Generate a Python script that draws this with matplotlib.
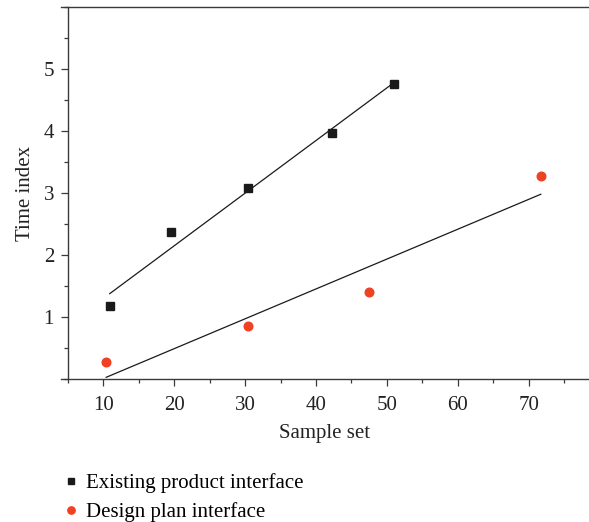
import numpy as np
import matplotlib
matplotlib.use("Agg")
import matplotlib.pyplot as plt
from matplotlib.ticker import MultipleLocator, FixedLocator

plt.rcParams['font.family'] = ['Liberation Serif', 'DejaVu Serif']

existing_x = [10.9, 19.6, 30.4, 42.2, 51.0]
existing_y = [1.17, 2.37, 3.08, 3.97, 4.76]
design_x = [10.4, 30.4, 47.5, 71.7]
design_y = [0.275, 0.86, 1.41, 3.27]
x_ticks = [10, 20, 30, 40, 50, 60, 70]
y_ticks = [1, 2, 3, 4, 5]

FS = 15

fig = plt.figure(figsize=(5.89, 5.22), dpi=100)
ax = fig.add_axes([0.1036, 0.274, 0.8964, 0.712])

ax.plot(existing_x, existing_y, 's', color='#1a1a1a', markersize=5.6, linestyle='none',
        label='Existing product interface', zorder=3)
ax.plot(design_x, design_y, 'o', color='#ef4123', markersize=6.2, linestyle='none',
        label='Design plan interface', zorder=3)

for xs, ys in ((existing_x, existing_y), (design_x, design_y)):
    k, b = np.polyfit(xs, ys, 1)
    xr = np.array([min(xs), max(xs)])
    ax.plot(xr, k * xr + b, color='#1a1a1a', linewidth=0.9, zorder=2)

ax.set_xlim(4.03, 78.5)
ax.set_ylim(0, 6.0)
ax.spines['left'].set_position(('data', 5))
ax.spines['right'].set_visible(False)
for s in ('left', 'bottom', 'top'):
    ax.spines[s].set_color('#3a3a3a')
    ax.spines[s].set_linewidth(1.0)

ax.xaxis.set_major_locator(FixedLocator(x_ticks))
ax.xaxis.set_minor_locator(MultipleLocator(5))
ax.yaxis.set_major_locator(FixedLocator(y_ticks))
ax.yaxis.set_minor_locator(MultipleLocator(0.5))
ax.tick_params(which='both', direction='out', color='#3a3a3a', width=0.9,
               top=False, right=False, labelsize=FS, labelcolor='#222222')
ax.tick_params(which='major', length=5)
ax.tick_params(which='minor', length=3)
ax.tick_params(axis='x', which='major', pad=7)
ax.tick_params(axis='y', which='major', pad=5)

ax.set_xlabel('Sample set', fontsize=FS, color='#222222', labelpad=7)
ax.set_ylabel('Time index', fontsize=FS, color='#222222', labelpad=6)

fig.legend(loc='upper left', bbox_to_anchor=(0.089, 0.11), frameon=False,
           fontsize=FS, handletextpad=0.2, handlelength=1.0, labelspacing=0.45,
           markerscale=0.85, borderaxespad=0.0)

fig.savefig('out.png', dpi=100)
